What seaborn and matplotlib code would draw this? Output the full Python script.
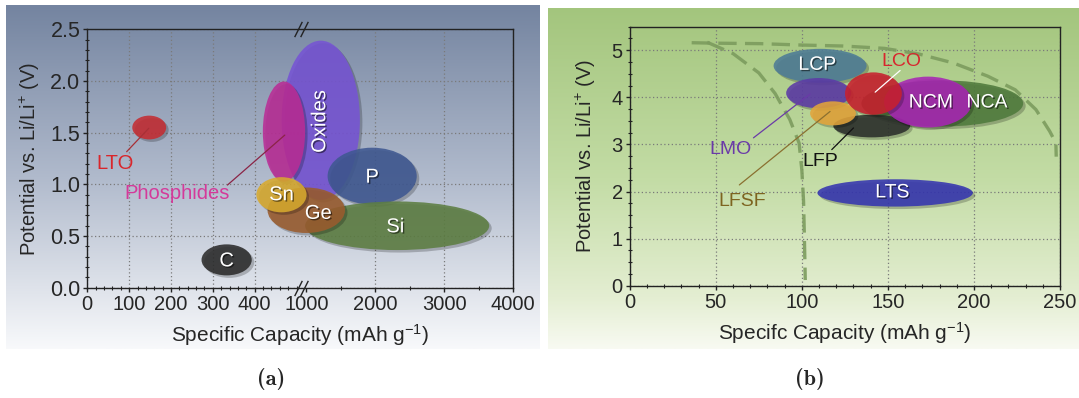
import numpy as np
import matplotlib
matplotlib.use("Agg")
import matplotlib.pyplot as plt
import matplotlib.transforms as mtransforms
import matplotlib.patheffects as pe
from matplotlib.patches import Ellipse
from matplotlib.ticker import MultipleLocator, FixedLocator
import seaborn as sns

# ---------------- (a) anode materials ----------------
anode_names = ["Oxides", "Phosphides", "P", "Si", "Ge", "Sn", "C", "LTO"]
anode_capacity = [1210, 470, 1955, 2317, 1000, 464, 333, 148]        # mAh/g, centre
anode_potential = [1.62, 1.51, 1.08, 0.60, 0.75, 0.90, 0.27, 1.55]   # V, centre
# spread of each family (capacity spread given on the 0-500 scale)
anode_capacity_span = [187, 101, 213, 440, 185, 120, 120, 81]
anode_potential_span = [1.54, 0.97, 0.55, 0.47, 0.44, 0.34, 0.30, 0.23]
anode_label_capacity = [1195, 214, 1955, 2290, 1174, 464, 333, 66]
anode_label_potential = [1.61, 0.91, 1.07, 0.59, 0.72, 0.90, 0.26, 1.20]
anode_ticks = [0, 100, 200, 300, 400, 1000, 2000, 3000, 4000]
anode_minor = [20, 40, 60, 80, 120, 140, 160, 180, 220, 240, 260, 280,
               320, 340, 360, 380, 420, 440, 460, 480, 500, 1500, 2500, 3500]
anode_yticks = [0.0, 0.5, 1.0, 1.5, 2.0, 2.5]

# ---------------- (b) cathode materials ----------------
cathode_names = ["LCP", "LMO", "NCA", "LFP", "LFSF", "NCM", "LCO", "LTS"]
cathode_capacity = [110.6, 109.8, 181.6, 140.6, 118.1, 173.3, 141.6, 154.2]
cathode_potential = [4.67, 4.09, 3.87, 3.39, 3.66, 3.90, 4.08, 1.97]
cathode_capacity_span = [54, 37.8, 94, 44.6, 26.6, 51, 33, 90.3]
cathode_potential_span = [0.72, 0.64, 0.98, 0.48, 0.51, 1.08, 0.90, 0.58]
cathode_label_capacity = [109, 58.7, 207.6, 110.6, 65.6, 175.0, 158.1, 152.6]
cathode_label_potential = [4.68, 2.89, 3.88, 2.64, 1.79, 3.88, 4.77, 1.97]
cathode_xticks = [0, 50, 100, 150, 200, 250]
cathode_yticks = [0, 1, 2, 3, 4, 5]

# envelope curves (dashed)
outer_cap = [36, 50, 76, 100, 124, 148, 168, 188, 208, 224, 236, 244, 247.6, 247.8]
outer_pot = [5.16, 5.15, 5.14, 5.11, 5.09, 5.04, 4.92, 4.73, 4.45, 4.16, 3.74, 3.28, 3.03, 2.74]
inner_cap = [45, 60, 75, 84.5, 93, 98.4, 100, 101, 101.5, 102]
inner_pot = [5.17, 4.93, 4.52, 4.08, 3.53, 3.03, 2.46, 1.8, 1.0, 0.12]

# ---------------- styling ----------------
sns.set_style("ticks")
plt.rcParams["font.family"] = ["Liberation Sans", "DejaVu Sans"]
plt.rcParams["mathtext.fontset"] = "custom"
plt.rcParams["mathtext.rm"] = "Liberation Sans"
plt.rcParams["mathtext.it"] = "Liberation Sans:italic"
plt.rcParams["mathtext.bf"] = "Liberation Sans:bold"
plt.rcParams["axes.edgecolor"] = "#222222"

anode_colors = {"Oxides": "#7654d4", "Phosphides": "#b92d96", "P": "#3f5891",
                "Si": "#5d7e42", "Ge": "#9a5c2e", "Sn": "#d8aa2e",
                "C": "#2c2c2c", "LTO": "#c42d33"}
cathode_colors = {"LCP": "#4d7b96", "LMO": "#5c3aa6", "NCA": "#4f7a3c",
                  "LFP": "#2b2f2b", "LFSF": "#e3a43a", "NCM": "#a826b4",
                  "LCO": "#c8202e", "LTS": "#3535b0"}
outside_text = {"LTO": "#d9262b", "Phosphides": "#d43a9a",
                "LCO": "#d8262e", "LMO": "#6a3aa8", "LFSF": "#7d6420", "LFP": "#111111"}

# broken capacity axis for (a): 0-500 linear, then 1000-4000 compressed
seg_in = [0, 500, 1000, 4000]
seg_out = [0, 500, 523.3, 1018.0]


def cap_to_axis(x):
    return np.interp(np.asarray(x, float), seg_in, seg_out)


fig = plt.figure(figsize=(10.79, 3.98), dpi=100)


def gradient_panel(rect, stops):
    bg = fig.add_axes(rect, zorder=0)
    pos = np.linspace(0, 1, 256)
    locs = [s for s, _ in stops]
    cols = np.array([c for _, c in stops], float) / 255
    rgb = np.stack([np.interp(pos, locs, cols[:, i]) for i in range(3)], axis=1)
    bg.imshow(rgb[:, None, :], aspect="auto", extent=[0, 1, 0, 1], origin="upper")
    bg.set_axis_off()


gradient_panel([0.0056, 0.1231, 0.494, 0.8643],
               [(0, (116, 132, 160)), (0.5, (176, 186, 204)), (1, (248, 249, 251))])
gradient_panel([0.5079, 0.1231, 0.4921, 0.8568],
               [(0, (163, 197, 125)), (0.5, (195, 220, 165)), (0.85, (228, 238, 210)),
                (1, (248, 250, 242))])


def blob(ax, x, y, w, h, color, alpha=0.88):
    shadow_tr = mtransforms.offset_copy(ax.transData, fig=fig, x=2.5, y=-2.5, units="dots")
    ax.add_patch(Ellipse((x, y), w, h, transform=shadow_tr, facecolor="black",
                         alpha=0.22, lw=0, zorder=2))
    ax.add_patch(Ellipse((x, y), w, h, facecolor=color, alpha=alpha, lw=0, zorder=2))


shadow_fx = [pe.withSimplePatchShadow(offset=(1, -1), shadow_rgbFace="black", alpha=0.5)]


def style_axes(ax):
    ax.set_facecolor("none")
    for sp in ax.spines.values():
        sp.set_visible(True)
        sp.set_linewidth(1.0)
        sp.set_color("#222222")
    ax.tick_params(which="major", direction="out", length=3, width=1, color="#222222", pad=2)
    ax.tick_params(which="minor", direction="inout", length=2.5, width=0.8, color="#222222")
    ax.grid(True, which="major", linestyle=(0, (1, 2)), color="#7a7a7a", linewidth=0.9)
    ax.set_axisbelow(True)


# ---------------- panel (a) ----------------
axa = fig.add_axes([0.0809, 0.2769, 0.3948, 0.6495], zorder=1)
style_axes(axa)
axa.set_xlim(0, cap_to_axis(4000))
axa.set_ylim(0, 2.5)
axa.set_xticks(cap_to_axis(anode_ticks))
axa.set_xticklabels([str(t) for t in anode_ticks], fontsize=14.5)
axa.xaxis.set_minor_locator(FixedLocator(cap_to_axis(anode_minor)))
axa.set_yticks(anode_yticks)
axa.set_yticklabels([f"{t:.1f}" for t in anode_yticks], fontsize=15.5)
axa.yaxis.set_minor_locator(MultipleLocator(0.1))
axa.xaxis.get_major_ticks()[5].gridline.set_visible(False)
axa.set_xlabel("Specific Capacity (mAh g$^{-1}$)", fontsize=15, labelpad=6)
axa.set_ylabel("Potential vs. Li/Li$^{+}$ (V)", fontsize=14.5, labelpad=6)

for name, x, y, w, h in zip(anode_names, anode_capacity, anode_potential,
                            anode_capacity_span, anode_potential_span):
    blob(axa, cap_to_axis(x), y, w, h, anode_colors[name])

for name, x, y in zip(anode_names, anode_label_capacity, anode_label_potential):
    if name in outside_text:
        axa.text(cap_to_axis(x), y, name, color=outside_text[name], fontsize=14.5,
                 ha="center", va="center", zorder=5)
    else:
        axa.text(cap_to_axis(x), y, name, color="white", fontsize=14.5, ha="center",
                 va="center", rotation=90 if name == "Oxides" else 0, zorder=5,
                 path_effects=shadow_fx)

# leader lines from the outside labels to their regions
axa.plot(cap_to_axis([94, 147]), [1.316, 1.543], color="#a83036", lw=0.9, zorder=4)
axa.plot(cap_to_axis([335, 472]), [0.994, 1.477], color="#8b2446", lw=0.9, zorder=4)

# axis break marks
u_break = (cap_to_axis(500) + cap_to_axis(1000)) / 2
brk = mtransforms.blended_transform_factory(axa.transData, axa.transAxes)
for yb in (0, 1):
    axa.plot([u_break - 7, u_break + 7], [yb, yb], ls="none", marker=[(-1, -2), (1, 2)],
             markersize=11, mew=1, color="#222222", transform=brk, clip_on=False, zorder=6)

# ---------------- panel (b) ----------------
axb = fig.add_axes([0.5836, 0.2822, 0.3988, 0.6507], zorder=1)
style_axes(axb)
axb.set_xlim(0, 250)
axb.set_ylim(0, 5.5)
axb.set_xticks(cathode_xticks)
axb.set_xticklabels([str(t) for t in cathode_xticks], fontsize=14.5)
axb.xaxis.set_minor_locator(MultipleLocator(10))
axb.set_yticks(cathode_yticks)
axb.set_yticklabels([str(t) for t in cathode_yticks], fontsize=14.5)
axb.yaxis.set_minor_locator(MultipleLocator(0.25))
axb.set_xlabel("Specifc Capacity (mAh g$^{-1}$)", fontsize=15, labelpad=6)
axb.set_ylabel("Potential vs. Li/Li$^{+}$ (V)", fontsize=14.5, labelpad=10)

envelope_style = dict(color="#7c9c5e", lw=2.4, alpha=0.9, linestyle=(0, (5.5, 2.5)),
                      sort=False, estimator=None, ax=axb, zorder=3)
sns.lineplot(x=outer_cap, y=outer_pot, **envelope_style)
sns.lineplot(x=inner_cap, y=inner_pot, **envelope_style)

for name, x, y, w, h in zip(cathode_names, cathode_capacity, cathode_potential,
                            cathode_capacity_span, cathode_potential_span):
    blob(axb, x, y, w, h, cathode_colors[name])

for name, x, y in zip(cathode_names, cathode_label_capacity, cathode_label_potential):
    if name in outside_text:
        axb.text(x, y, name, color=outside_text[name], fontsize=14, ha="center",
                 va="center", zorder=5)
    else:
        axb.text(x, y, name, color="white", fontsize=14, ha="center", va="center",
                 zorder=5, path_effects=shadow_fx)

axb.plot([142.6, 157.1], [4.11, 4.57], color="white", lw=0.9, zorder=4)
axb.plot([71.9, 104.8], [3.14, 4.07], color="#6a3aa8", lw=0.9, zorder=4)
axb.plot([63.7, 116.4], [2.14, 3.70], color="#8a7030", lw=0.9, zorder=4)
axb.plot([117.4, 130.0], [2.89, 3.35], color="#111111", lw=0.9, zorder=4)

# panel captions
fig.text(0.2512, 0.0477, "(a)", fontfamily="cmb10", fontsize=16, ha="center", va="center")
fig.text(0.7507, 0.0477, "(b)", fontfamily="cmb10", fontsize=16, ha="center", va="center")

fig.savefig("out.png", dpi=100)
